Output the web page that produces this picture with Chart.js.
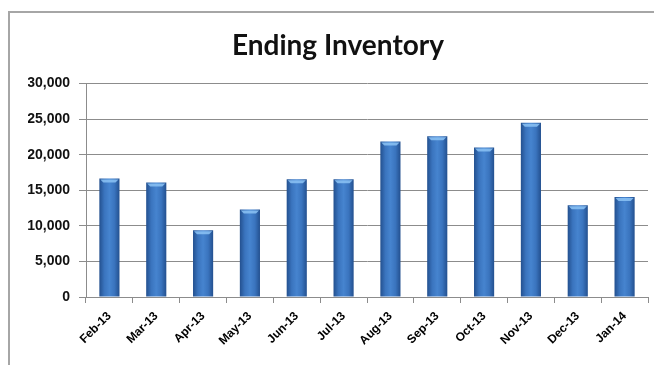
<!DOCTYPE html>
<html>
<head>
<meta charset="utf-8">
<script src="https://cdn.jsdelivr.net/npm/chart.js@4/dist/chart.umd.min.js"></script>
<style>
  html, body { margin: 0; padding: 0; background: #fff; overflow: hidden; }
  #box {
    position: absolute; left: 8px; top: 11px;
    width: 660px; height: 360px;
    border-left: 2px solid #a6a6a6; border-top: 2px solid #a6a6a6;
  }
  #wrap { position: absolute; left: 0; top: 0; width: 660px; height: 352px; }
</style>
</head>
<body>
<div id="box"><div id="wrap"><canvas id="myChart"></canvas></div></div>
<script>
var months = ["Feb-13","Mar-13","Apr-13","May-13","Jun-13","Jul-13","Aug-13","Sep-13","Oct-13","Nov-13","Dec-13","Jan-14"]
var inventory = [16650, 16100, 9400, 12300, 16550, 16550, 21850, 22600, 21000, 24500, 12900, 14050]
var yTicks = [0, 5000, 10000, 15000, 20000, 25000, 30000]

function barFill(ctx){
	var chart = ctx.chart
	var xs = chart.scales.x
	if (!xs || ctx.dataIndex === undefined) return "#3a74bf"
	var cx = xs.getPixelForValue(ctx.dataIndex)
	var w = xs.width / months.length * 0.43
	if (!isFinite(cx) || !isFinite(w) || w <= 0) return "#3a74bf"
	var g = chart.ctx.createLinearGradient(cx - w/2, 0, cx + w/2, 0)
	g.addColorStop(0, "#23508f")
	g.addColorStop(0.25, "#3a74be")
	g.addColorStop(0.5, "#4684cf")
	g.addColorStop(0.75, "#3a74be")
	g.addColorStop(1, "#23508f")
	return g
}

// light top cap on each bar
var capPlugin = {
	id: "cap",
	afterDatasetsDraw: function(chart){
		var c = chart.ctx
		chart.getDatasetMeta(0).data.forEach(function(bar){
			var w = bar.width
			c.save()
			c.fillStyle = "rgba(140,195,245,0.85)"
			c.beginPath()
			c.moveTo(bar.x - w/2 + 1, bar.y + 1)
			c.lineTo(bar.x + w/2 - 1, bar.y + 1)
			c.lineTo(bar.x + w/2 - 4, bar.y + 4)
			c.lineTo(bar.x - w/2 + 4, bar.y + 4)
			c.closePath()
			c.fill()
			c.restore()
		})
	}
}

var mychart = document.getElementById("myChart").getContext('2d')

var chart = new Chart(mychart, {
	type: 'bar',
	data: {
		labels: months,
		datasets: [{
			label: "Ending Inventory",
			data: inventory,
			backgroundColor: barFill,
			borderWidth: 0,
			barPercentage: 0.86,
			categoryPercentage: 0.5
		}]
	},
	options: {
		responsive: true,
		maintainAspectRatio: false,
		animation: false,
		layout: { padding: { left: 18, right: 22, top: 0, bottom: 6 } },
		plugins: {
			legend: { display: false },
			tooltip: { enabled: false },
			title: {
				display: true,
				text: "Ending Inventory",
				color: "#111",
				font: { family: "Lato", size: 28, weight: "bold" },
				padding: { top: 16, bottom: 21 }
			}
		},
		scales: {
			x: {
				grid: { display: true, drawOnChartArea: false, color: "#8c8c8c", tickLength: 6, offset: true },
				border: { color: "#8c8c8c" },
				ticks: {
					color: "#000",
					font: { family: "Liberation Sans", size: 12, weight: "bold" },
					minRotation: 45, maxRotation: 45,
					padding: 6
				},
				afterFit: function(s){ s.height = 62 }
			},
			y: {
				min: 0, max: 30000,
				afterBuildTicks: function(s){ s.ticks = yTicks.map(function(v){ return {value: v} }) },
				grid: { color: "#8c8c8c", tickLength: 7 },
				border: { color: "#8c8c8c" },
				ticks: {
					color: "#111",
					padding: 9,
					font: { family: "Liberation Sans", size: 14, weight: "bold" },
					callback: function(v){ return v.toLocaleString("en-US") }
				},
				afterFit: function(s){ s.width = 58 }
			}
		}
	},
	plugins: [capPlugin]
})
</script>
</body>
</html>
